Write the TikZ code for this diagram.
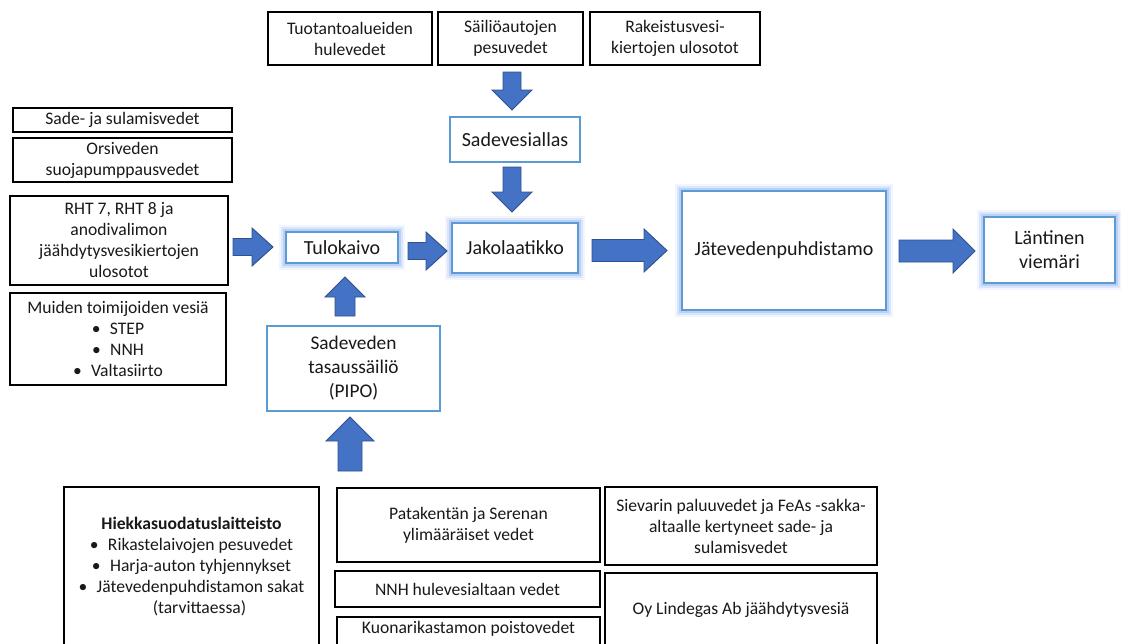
\documentclass[tikz,border=0pt]{standalone}
\usepackage{fontspec}
\setmainfont{Carlito}
\definecolor{boxblue}{HTML}{5B9BD5}
\definecolor{glowc}{RGB}{120,160,235}
\definecolor{arrowfill}{HTML}{4472C4}
\definecolor{arrowedge}{HTML}{2F528F}
\tikzset{
  txt/.style={align=center, inner sep=0pt, font=\fontsize{13.2}{15.75}\selectfont, text=black!90},
  bigtxt/.style={font=\fontsize{15}{18}\selectfont},
  plainbox/.style={txt, rectangle, draw=black, line width=1.1pt, fill=white},
  bluebox/.style={txt, bigtxt, rectangle, draw=boxblue, line width=1.5pt, fill=white},
  glowbox/.style={bluebox,
    preaction={draw=glowc, line width=11pt, draw opacity=0.10},
    preaction={draw=glowc, line width=8pt, draw opacity=0.18},
    preaction={draw=glowc, line width=5pt, draw opacity=0.32}},
  barrow/.style={fill=arrowfill, draw=arrowedge, line width=0.7pt, line join=miter}
}
% horizontal block arrow: tail x, tip x, head-base x, centre y, half shaft, half head
\newcommand\hblock[6]{%
  \draw[barrow] (#1,#4-#5) -- (#3,#4-#5) -- (#3,#4-#6) -- (#2,#4)
    -- (#3,#4+#6) -- (#3,#4+#5) -- (#1,#4+#5) -- cycle;}
% vertical block arrow: centre x, tail y, tip y, head-base y, half shaft, half head
\newcommand\vblock[6]{%
  \draw[barrow] (#1-#5,#2) -- (#1-#5,#4) -- (#1-#6,#4) -- (#1,#3)
    -- (#1+#6,#4) -- (#1+#5,#4) -- (#1+#5,#2) -- cycle;}
\begin{document}
\begin{tikzpicture}[x=0.75pt, y=-0.75pt]
\useasboundingbox (0,0) rectangle (1121,643);
\clip (0,0) rectangle (1121,643);

% sources at the top
\node (tuot) [plainbox, minimum width=123pt, minimum height=39.75pt] at (350,38.5) {Tuotantoalueiden\\hulevedet};
\node (sail) [plainbox, minimum width=108.75pt, minimum height=39.75pt] at (510.5,38.5) {Säiliöautojen\\pesuvedet};
\node (rake) [plainbox, minimum width=127.5pt, minimum height=39.75pt] at (675,38.5) {Rakeistusvesi-\\kiertojen ulosotot};

% main chain
\node (allas) [bluebox, minimum width=97.5pt, minimum height=33.75pt] at (515,139.5) {Sadevesiallas};
\node (jako) [glowbox, minimum width=94.5pt, minimum height=37.5pt] at (515,248) {Jakolaatikko};
\node (tulo) [glowbox, minimum width=84pt, minimum height=23.25pt] at (342,247.5) {Tulokaivo};
\node (pipo) [bluebox, font=\fontsize{14.5}{18}\selectfont, minimum width=129.75pt, minimum height=63.75pt] at (353.5,368.5) {Sadeveden\\tasaussäiliö\\(PIPO)};
\node (jate) [glowbox, minimum width=153pt, minimum height=89.25pt] at (784,250.5) {Jätevedenpuhdistamo};
\node (lant) [glowbox, minimum width=98.25pt, minimum height=49.5pt] at (1049.5,250) {Läntinen\\viemäri};

% sources on the left
\node (sade) [plainbox, minimum width=164.25pt, minimum height=18pt] at (122.5,120) {Sade- ja sulamisvedet};
\node (orsi) [plainbox, minimum width=164.25pt, minimum height=33pt] at (122.5,160) {Orsiveden\\suojapumppausvedet};
\node (rht) [plainbox, minimum width=163.5pt, minimum height=66.75pt] at (119,240.5) {RHT 7, RHT 8 ja\\anodivalimon\\jäähdytysvesikiertojen\\ulosotot};
\node (muid) [plainbox, minimum width=162pt, minimum height=69pt] at (118,339) {Muiden toimijoiden vesiä\\•\hspace{7pt}STEP\\•\hspace{7pt}NNH\\•\hspace{7pt}Valtasiirto};

% sources at the bottom
\node (hiek) [plainbox, minimum width=191.25pt, minimum height=120pt] at (191.5,567) {\textbf{Hiekkasuodatuslaitteisto}\\•\hspace{7pt}Rikastelaivojen pesuvedet\\•\hspace{7pt}Harja-auton tyhjennykset\\•\hspace{7pt}Jätevedenpuhdistamon sakat\\\hspace{12pt}(tarvittaessa)};
\node (pata) [plainbox, minimum width=197.25pt, minimum height=55.5pt] at (468.5,525) {Patakentän ja Serenan\\ylimääräiset vedet};
\node (nnhh) [plainbox, minimum width=198.75pt, minimum height=27pt] at (467.5,589) {NNH hulevesialtaan vedet};
\node (kuon) [plainbox, minimum width=197.25pt, minimum height=32.25pt, text height=9pt, text depth=16.5pt] at (468.5,638.5) {Kuonarikastamon poistovedet};
\node (siev) [plainbox, minimum width=204pt, minimum height=58.5pt] at (741,526) {Sievarin paluuvedet ja FeAs -sakka-\\altaalle kertyneet sade- ja\\sulamisvedet};
\node (lind) [plainbox, minimum width=204pt, minimum height=55.5pt] at (741,610) {Oy Lindegas Ab jäähdytysvesiä};

% block arrows
\vblock{512}{72}{110}{90}{9}{20}     % top sources -> allas
\vblock{512}{167}{212}{192}{9}{20}   % allas -> jako
\hblock{233}{273}{252}{247}{8.5}{19} % left sources -> tulo
\hblock{408}{447}{426}{251}{8.5}{19} % tulo -> jako
\hblock{592}{667}{644}{250.5}{11}{21.5} % jako -> jate
\hblock{899}{975}{953}{251}{11}{22}  % jate -> lant
\vblock{345}{316}{277}{297}{10}{20}  % pipo -> tulo
\vblock{350}{471}{417}{441}{12}{24}  % bottom sources -> pipo
\end{tikzpicture}
\end{document}
